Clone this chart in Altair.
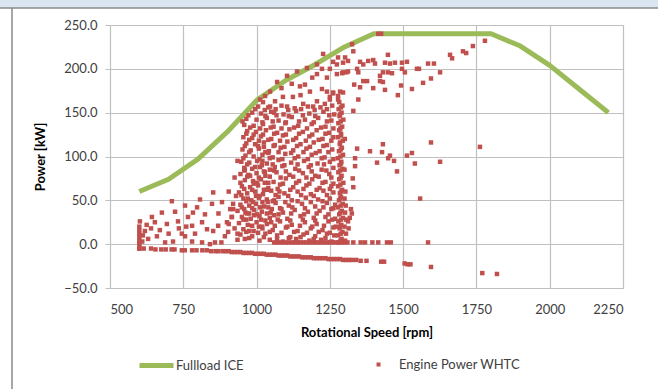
import altair as alt
import pandas as pd

# ---------------- data ----------------
x_ticks = [500, 750, 1000, 1250, 1500, 1750, 2000, 2250]
y_ticks = [-50, 0, 50, 100, 150, 200, 250]

# Full-load curve of the ICE
fl_rpm = [600, 700, 800, 900, 1000, 1100, 1200, 1300, 1400, 1500, 1600, 1700, 1800, 1900, 2000, 2100, 2200]
fl_kw = [60, 74, 97, 128, 164, 187, 205, 225, 240, 240, 240, 240, 240, 226, 204, 177, 150]

# Engine operating points (WHTC), by region
low_pts = [(600, -5), (600, -2), (600, 1), (600, 4), (600, 8), (600, 12), (600, 16), (600, 20), (602, 26),
           (610, 3), (612, 10), (619, 15), (630, 6), (643, 31), (653, 25), (660, 9), (677, 36), (688, 2),
           (694, 23), (711, 49), (715, 3), (722, 37), (732, 26), (745, 12), (756, 44), (756, 9), (766, 31),
           (780, 21), (780, 3), (783, 36), (797, 42), (807, 51), (814, 25), (814, 2), (824, 34), (831, 17),
           (841, 0), (848, 46), (852, 59), (852, 15), (858, 2), (869, 21), (882, 48), (892, 9), (899, 25),
           (903, 14), (916, 31), (640, 18), (700, 12), (735, 18), (790, 12), (870, 35), (625, 22), (670, 16),
           (760, 20), (880, 2), (905, 60), (910, 40), (935, 5)]

dash_pts = [(600, -5), (615, -5), (640, -5), (655, -6), (675, -6), (690, -6), (710, -6), (720, -6),
            (745, -7), (755, -7), (780, -7), (795, -7), (815, -7), (830, -7), (845, -8), (860, -8), (870, -8)]

motoring_pts = [(885, -8), (895, -8), (905, -8), (915, -9), (925, -9), (935, -9), (945, -9), (955, -10),
                (965, -10), (975, -10), (985, -10), (995, -11), (1005, -11), (1015, -11), (1025, -11),
                (1035, -12), (1045, -12), (1055, -12), (1065, -12), (1075, -13), (1085, -13), (1095, -13),
                (1105, -13), (1115, -14), (1125, -14), (1135, -14), (1145, -14), (1155, -15), (1165, -15),
                (1175, -15), (1185, -15), (1195, -16), (1205, -16), (1215, -16), (1225, -16), (1235, -16),
                (1245, -17), (1255, -17), (1265, -17), (1275, -17), (1285, -17), (1295, -18), (1305, -18),
                (1315, -18), (1325, -18), (1340, -18), (1355, -19), (1375, -19), (1425, -20), (1435, -20),
                (1505, -22), (1515, -23), (1525, -23), (1595, -26), (1770, -33), (1820, -34)]

zero_pts = [(1060, 2), (1070, 2), (1080, 2), (1090, 2), (1100, 2), (1110, 2), (1120, 2), (1130, 2), (1140, 2),
            (1150, 2), (1160, 2), (1170, 2), (1180, 2), (1190, 2), (1200, 2), (1210, 2), (1220, 2), (1230, 2),
            (1240, 2), (1250, 2), (1260, 2), (1270, 2), (1280, 2), (1290, 2), (1300, 2), (1310, 2), (1330, 2),
            (1355, 2), (1370, 2), (1395, 2), (1415, 2), (1445, 2), (1458, 2), (1585, 2)]

cloud_pts = [(1010, 4), (1045, 5), (1090, 3), (1135, 6), (1180, 4), (1220, 5), (1255, 3), (960, 6),
             (945, 11), (985, 9), (1030, 12), (1070, 10), (1115, 8), (1160, 11), (1200, 9), (1240, 12), (1265, 10),
             (955, 17), (990, 15), (1020, 18), (1055, 16), (1100, 19), (1140, 15), (1185, 18), (1225, 16), (1262, 19), (925, 18),
             (940, 24), (970, 22), (1000, 25), (1035, 23), (1080, 26), (1120, 22), (1165, 25), (1205, 23), (1245, 26), (905, 23),
             (950, 31), (980, 29), (1010, 32), (1045, 30), (1060, 33), (1105, 29), (1150, 32), (1195, 30), (1235, 31), (1268, 29), (915, 31),
             (935, 38), (962, 36), (992, 39), (1018, 37), (1052, 40), (1090, 36), (1130, 39), (1175, 37), (1215, 38), (1255, 40),
             (945, 45), (975, 44), (998, 46), (1025, 43), (1065, 47), (1110, 44), (1155, 46), (1200, 43), (1240, 47), (920, 46),
             (955, 52), (982, 50), (1008, 53), (1035, 51), (1075, 54), (1120, 50), (1168, 53), (1210, 51), (1250, 52),
             (940, 59), (968, 58), (995, 60), (1022, 57), (1050, 61), (1095, 58), (1140, 60), (1185, 57), (1228, 61), (1262, 59),
             (950, 66), (978, 65), (1005, 67), (1040, 64), (1080, 68), (1125, 65), (1170, 67), (1215, 64), (1255, 66),
             (960, 73), (988, 72), (1015, 74), (1058, 71), (1100, 75), (1145, 72), (1190, 74), (1235, 71),
             (945, 80), (972, 79), (1000, 81), (1030, 78), (1068, 82), (1112, 79), (1158, 81), (1200, 78), (1248, 80),
             (958, 87), (985, 86), (1012, 88), (1045, 85), (1088, 89), (1132, 86), (1178, 88), (1222, 85), (1262, 87),
             (948, 94), (975, 93), (1002, 95), (1035, 92), (1075, 96), (1118, 93), (1162, 95), (1208, 92), (1250, 94),
             (962, 101), (990, 100), (1020, 102), (1055, 99), (1098, 103), (1142, 100), (1188, 102), (1232, 99),
             (952, 108), (980, 107), (1008, 109), (1042, 106), (1082, 110), (1125, 107), (1170, 109), (1215, 106), (1258, 108),
             (965, 115), (995, 114), (1025, 116), (1062, 113), (1105, 117), (1150, 114), (1195, 116), (1240, 113),
             (955, 122), (985, 121), (1015, 123), (1050, 120), (1090, 124), (1135, 121), (1180, 123), (1225, 120), (1262, 122),
             (968, 129), (998, 128), (1032, 130), (1070, 127), (1112, 131), (1158, 128), (1205, 130), (1248, 127),
             (958, 136), (990, 135), (1022, 137), (1058, 134), (1098, 138), (1142, 135), (1188, 137), (1235, 134),
             (965, 143), (1000, 142), (1035, 144), (1075, 141), (1120, 145), (1165, 142), (1210, 144), (1255, 141),
             (985, 150), (1015, 149), (1050, 151), (1092, 148), (1135, 152), (1180, 149), (1228, 151), (1265, 148),
             (1005, 157), (1040, 156), (1085, 158), (1130, 155), (1175, 157), (1218, 156), (1258, 158),
             (965, 28), (975, 35), (988, 48), (998, 55), (1012, 42), (1025, 62), (1038, 48), (1002, 70), (985, 62),
             (970, 52), (1015, 28), (1048, 36), (958, 40), (992, 33), (1028, 82), (1008, 20), (978, 78), (960, 85),
             (1040, 70), (1020, 95), (995, 88), (1060, 50), (975, 15), (1050, 25), (1005, 112), (990, 125),
             (1030, 105), (1062, 88), (1078, 60), (1085, 40), (925, 76), (930, 55), (935, 95), (920, 40), (935, 12)]

cloud_pts_2 = [(975, 7), (1025, 8), (1070, 6), (1110, 7), (1150, 8), (1195, 6), (1235, 7),
               (965, 14), (1005, 13), (1045, 14), (1085, 13), (1128, 14), (1172, 13), (1212, 14), (1250, 13),
               (985, 21), (1018, 20), (1062, 21), (1105, 20), (1148, 21), (1190, 20), (1230, 21),
               (955, 28), (1030, 27), (1072, 28), (1115, 27), (1158, 28), (1200, 27), (1258, 28),
               (968, 35), (1002, 34), (1035, 35), (1075, 34), (1118, 35), (1162, 34), (1205, 35), (1245, 34),
               (950, 42), (985, 41), (1040, 42), (1080, 41), (1122, 42), (1165, 41), (1228, 42), (1262, 41),
               (965, 49), (1020, 48), (1055, 49), (1098, 48), (1140, 49), (1185, 48), (1225, 49),
               (948, 56), (1010, 55), (1065, 56), (1108, 55), (1152, 56), (1195, 55), (1240, 56),
               (958, 63), (1035, 62), (1072, 63), (1115, 62), (1160, 63), (1205, 62), (1250, 63),
               (945, 70), (990, 69), (1028, 70), (1090, 69), (1135, 70), (1180, 69), (1225, 70), (1262, 69),
               (968, 77), (1008, 76), (1045, 77), (1082, 76), (1125, 77), (1170, 76), (1212, 77), (1255, 76),
               (958, 84), (1025, 83), (1060, 84), (1100, 83), (1145, 84), (1188, 83), (1238, 84),
               (968, 91), (1018, 90), (1055, 91), (1095, 90), (1140, 91), (1185, 90), (1230, 91),
               (955, 98), (1010, 97), (1045, 98), (1088, 97), (1130, 98), (1175, 97), (1222, 98), (1262, 97),
               (975, 105), (1040, 104), (1075, 105), (1118, 104), (1160, 105), (1202, 104), (1245, 105),
               (960, 112), (1025, 111), (1058, 112), (1095, 111), (1138, 112), (1182, 111), (1228, 112),
               (975, 119), (1008, 118), (1040, 119), (1080, 118), (1125, 119), (1168, 118), (1212, 119), (1255, 118),
               (965, 126), (1022, 125), (1060, 126), (1100, 125), (1145, 126), (1190, 125), (1235, 126),
               (978, 133), (1012, 132), (1048, 133), (1085, 132), (1128, 133), (1172, 132), (1220, 133), (1262, 132),
               (952, 140), (1020, 139), (1055, 140), (1100, 139), (1145, 140), (1195, 139), (1240, 140),
               (972, 147), (1030, 146), (1068, 147), (1110, 146), (1158, 147), (1200, 146), (1248, 147),
               (995, 154), (1028, 153), (1065, 154), (1108, 153), (1152, 154), (1198, 153), (1240, 154)]

band_pts = [(1280, 2), (1278, 10), (1283, 18), (1279, 26), (1282, 34), (1277, 42), (1281, 50), (1284, 58),
            (1278, 66), (1282, 74), (1279, 82), (1283, 90), (1277, 98), (1281, 106), (1284, 114), (1278, 122),
            (1282, 130), (1279, 138), (1283, 146), (1280, 154), (1282, 162),
            (1290, 6), (1293, 14), (1289, 22), (1295, 30), (1291, 38), (1294, 46), (1288, 54), (1292, 62),
            (1296, 70), (1290, 78), (1293, 86), (1289, 94), (1295, 102), (1291, 110), (1294, 118), (1288, 126),
            (1292, 134), (1296, 142), (1290, 150), (1293, 158),
            (1286, 4), (1287, 12), (1285, 20), (1288, 28), (1286, 36), (1287, 44), (1285, 52), (1288, 60),
            (1286, 68), (1287, 76), (1285, 84), (1288, 92), (1286, 100), (1287, 108), (1285, 116), (1288, 124),
            (1286, 132), (1287, 140), (1285, 148), (1288, 156),
            (1302, 4), (1305, 12), (1300, 20), (1306, 28), (1302, 36), (1304, 44), (1300, 52), (1303, 60),
            (1300, 85), (1301, 120), (1314, 18), (1318, 30), (1322, 40), (1312, 26), (1270, 20), (1268, 45)]

upper_pts = [(1012, 165), (1046, 174), (1070, 185), (1104, 192), (1138, 197), (1172, 201), (1206, 205),
             (1227, 217), (1326, 228), (1415, 240), (1425, 240), (1206, 194), (1223, 200), (1250, 200),
             (1274, 205), (1295, 207), (1312, 209), (1330, 220), (1343, 200), (1364, 186), (1295, 196),
             (1274, 194), (1148, 180), (1165, 182), (1182, 174), (1223, 177), (1240, 174), (1261, 173),
             (1278, 165), (1124, 168), (1090, 168), (1063, 163), (1046, 157), (1029, 169), (1022, 162),
             (1104, 157), (1159, 160), (1206, 163), (1193, 157), (1250, 168), (1233, 160), (1278, 213),
             (1302, 213), (1261, 208), (1353, 208), (1364, 205), (1381, 209), (1398, 210), (1404, 206),
             (1448, 216), (1438, 207), (1455, 206), (1472, 207), (1496, 207), (1513, 208), (1496, 200),
             (1506, 196), (1547, 200), (1554, 200), (1585, 206), (1605, 206), (1626, 196), (1660, 216),
             (1667, 212), (1704, 220), (1715, 218), (1738, 226), (1779, 232), (1595, 189), (1568, 184),
             (1530, 177), (1493, 181), (1482, 170), (1438, 176), (1431, 185), (1398, 178), (1377, 186),
             (1353, 179), (1333, 182), (1347, 165), (1330, 152), (1421, 192), (1448, 196), (1462, 195),
             (1421, 186), (1431, 196), (1306, 196), (1292, 195), (1312, 197), (1347, 196), (1285, 174),
             (1295, 173), (1278, 169), (1261, 172), (1250, 165), (1085, 178), (1120, 183), (1190, 190),
             (1240, 190), (1150, 170), (1060, 150)]

mid_pts = [(1343, 109), (1387, 106), (1431, 114), (1428, 105), (1455, 101), (1449, 98), (1469, 95),
           (1479, 83), (1411, 93), (1336, 98), (1336, 89), (1513, 101), (1530, 104), (1540, 92), (1595, 116),
           (1626, 94), (1762, 111), (1330, 65), (1558, 52), (1325, 35), (1328, 75)]

# ---------------- frames ----------------
FL_NAME = "Fullload ICE"
PT_NAME = "Engine Power WHTC"
GREEN = "#9bbb59"
RED = "#c0504d"
FONT = "Lato"

df_fl = pd.DataFrame({"rpm": fl_rpm, "kw": fl_kw, "series": FL_NAME})
all_pts = (low_pts + dash_pts + motoring_pts + zero_pts + cloud_pts + cloud_pts_2
           + band_pts + upper_pts + mid_pts)
df_pts = pd.DataFrame(all_pts, columns=["rpm", "kw"])
df_pts["series"] = PT_NAME
df_dummy = pd.DataFrame({"d": [0]})

x_enc = alt.X("rpm:Q",
              scale=alt.Scale(domain=[500, 2250], nice=False, zero=False),
              axis=alt.Axis(values=x_ticks, format="d", title="Rotational Speed [rpm]",
                            ticks=False, labelPadding=15, titleY=44, titleBaseline="middle"))
y_enc = alt.Y("kw:Q",
              scale=alt.Scale(domain=[-50, 250], nice=False, zero=False),
              axis=alt.Axis(values=y_ticks, format=".1f", title="Power [kW]",
                            tickSize=5, labelPadding=8, titleX=-70, titleY=131.5,
                            titleAngle=270, titleBaseline="middle", titleAlign="center"))

band = alt.Chart(df_dummy).mark_rect(color="#dbe5f1").encode(
    x=alt.value(-110), x2=alt.value(548), y=alt.value(-25), y2=alt.value(-17))
hline = alt.Chart(df_dummy).mark_rule(color="#8a8a8a", strokeWidth=1.5).encode(
    x=alt.value(-110), x2=alt.value(548), y=alt.value(-17))
vline = alt.Chart(df_dummy).mark_rule(color="#8a8a8a", strokeWidth=1.5).encode(
    x=alt.value(-98), y=alt.value(-17), y2=alt.value(364))

line = alt.Chart(df_fl).mark_line(strokeWidth=5, strokeJoin="round", strokeCap="butt").encode(
    x=x_enc, y=y_enc,
    color=alt.Color("series:N", scale=alt.Scale(domain=[FL_NAME], range=[GREEN]),
                    legend=alt.Legend(title=None, orient="none", legendX=27, legendY=321,
                                      symbolType="stroke", symbolStrokeWidth=5, symbolSize=1156,
                                      labelOffset=0, labelFont=FONT, labelFontSize=13,
                                      labelColor="#404040")))

pts = alt.Chart(df_pts).mark_point(filled=True, size=20, color=RED, opacity=1, strokeWidth=0).encode(
    x=x_enc, y=y_enc,
    shape=alt.Shape("series:N", scale=alt.Scale(domain=[PT_NAME], range=["square"]),
                    legend=alt.Legend(title=None, orient="none", legendX=262, legendY=333,
                                      symbolSize=16, symbolFillColor=RED, symbolStrokeWidth=0,
                                      labelOffset=14, labelFont=FONT, labelFontSize=13,
                                      labelColor="#404040")))

chart = alt.layer(band, hline, vline, line, pts).properties(
    width=513, height=263,
    autosize=alt.AutoSizeParams(type="none"),
    padding={"left": 110, "top": 25, "right": 35, "bottom": 101},
    background="white",
).configure_axis(
    gridColor="#c0c0c0", gridWidth=1.2, domainColor="#c0c0c0", tickColor="#c0c0c0",
    labelFont=FONT, labelFontSize=13, labelColor="#404040",
    titleFont=FONT, titleFontSize=13, titleFontWeight="bold", titleColor="#000000",
).configure_view(stroke="#c0c0c0")

chart.save("out.html", embed_options={"renderer": "svg", "actions": False})
